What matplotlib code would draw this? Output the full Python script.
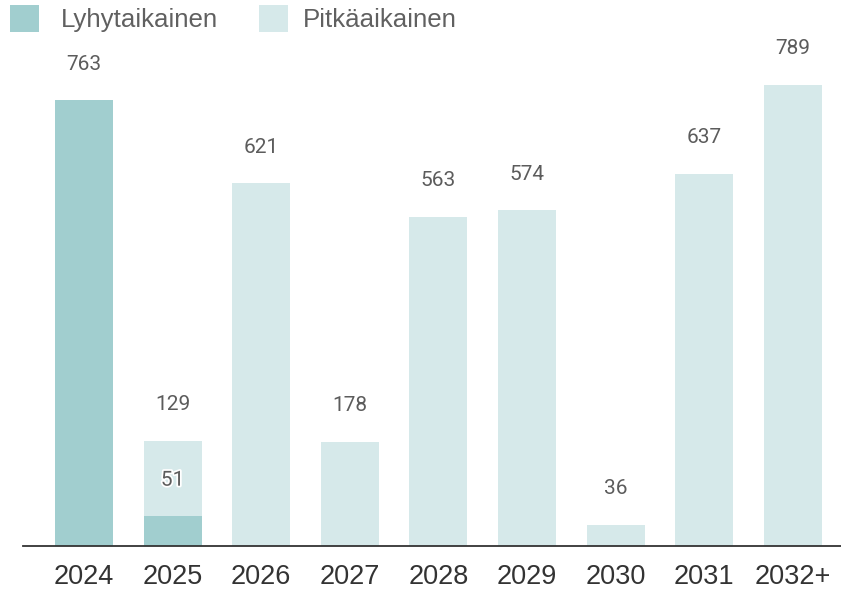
import matplotlib
matplotlib.use("Agg")
import matplotlib.pyplot as plt
import matplotlib.patheffects as pe
from matplotlib.patches import Rectangle
import numpy as np

categories = ["2024", "2025", "2026", "2027", "2028", "2029", "2030", "2031", "2032+"]
short_term = [763, 51, 0, 0, 0, 0, 0, 0, 0]
long_term = [0, 129, 621, 178, 563, 574, 36, 637, 789]
series_names = ["Lyhytaikainen", "Pitkäaikainen"]
colors = ["#a1cecf", "#d6e9ea"]

W, H = 841, 591
fig = plt.figure(figsize=(W / 100, H / 100), dpi=100)

scale = 0.5845  # px per unit
base_px = 546
top_px = 40
ax = fig.add_axes([0, (H - base_px) / H, 1, (base_px - top_px) / H])
x = np.arange(len(categories))
step = 88.6
x0px = 84
ax.set_xlim(-x0px / step, (W - x0px) / step)
ax.set_ylim(0, (base_px - top_px) / scale)

short = np.array(short_term)
long_ = np.array(long_term)
bw = 0.655
ax.bar(x, short, width=bw, color=colors[0], linewidth=0)
ax.bar(x, long_, bottom=short, width=bw, color=colors[1], linewidth=0)

lab_font = dict(family=["Roboto", "DejaVu Sans"], fontsize=15, color="#5c5c5c")
for i in range(len(categories)):
    if short[i] > 0:
        t = ax.annotate(str(short[i]), (x[i], short[i]), xytext=(0, 36),
                        textcoords="offset pixels", ha="center", va="center", **lab_font)
        if long_[i] > 0:
            t.set_path_effects([pe.withStroke(linewidth=2.5, foreground="white")])
    if long_[i] > 0:
        ax.annotate(str(long_[i]), (x[i], short[i] + long_[i]), xytext=(0, 36),
                    textcoords="offset pixels", ha="center", va="center", **lab_font)

for s in ["top", "right", "left"]:
    ax.spines[s].set_visible(False)
ax.spines["bottom"].set_color("#333333")
ax.spines["bottom"].set_linewidth(1.3)
ax.spines["bottom"].set_bounds(-(x0px - 23) / step, (W - x0px) / step)
ax.set_yticks([])
ax.set_xticks(x)
ax.set_xticklabels(categories, fontfamily="Liberation Sans", fontsize=19.5, color="#333333")
ax.tick_params(axis="x", length=0, pad=13)

# legend
leg_x = [10, 259]
txt_x = [61, 303]
for k in range(2):
    fig.add_artist(Rectangle((leg_x[k] / W, 1 - 32 / H), 29 / W, 27 / H,
                             transform=fig.transFigure, color=colors[k], linewidth=0))
    fig.text(txt_x[k] / W, 1 - 27 / H, series_names[k], ha="left", va="baseline",
             fontfamily="Liberation Sans", fontsize=18.6, color="#606060")

fig.savefig("out.png", dpi=100)
